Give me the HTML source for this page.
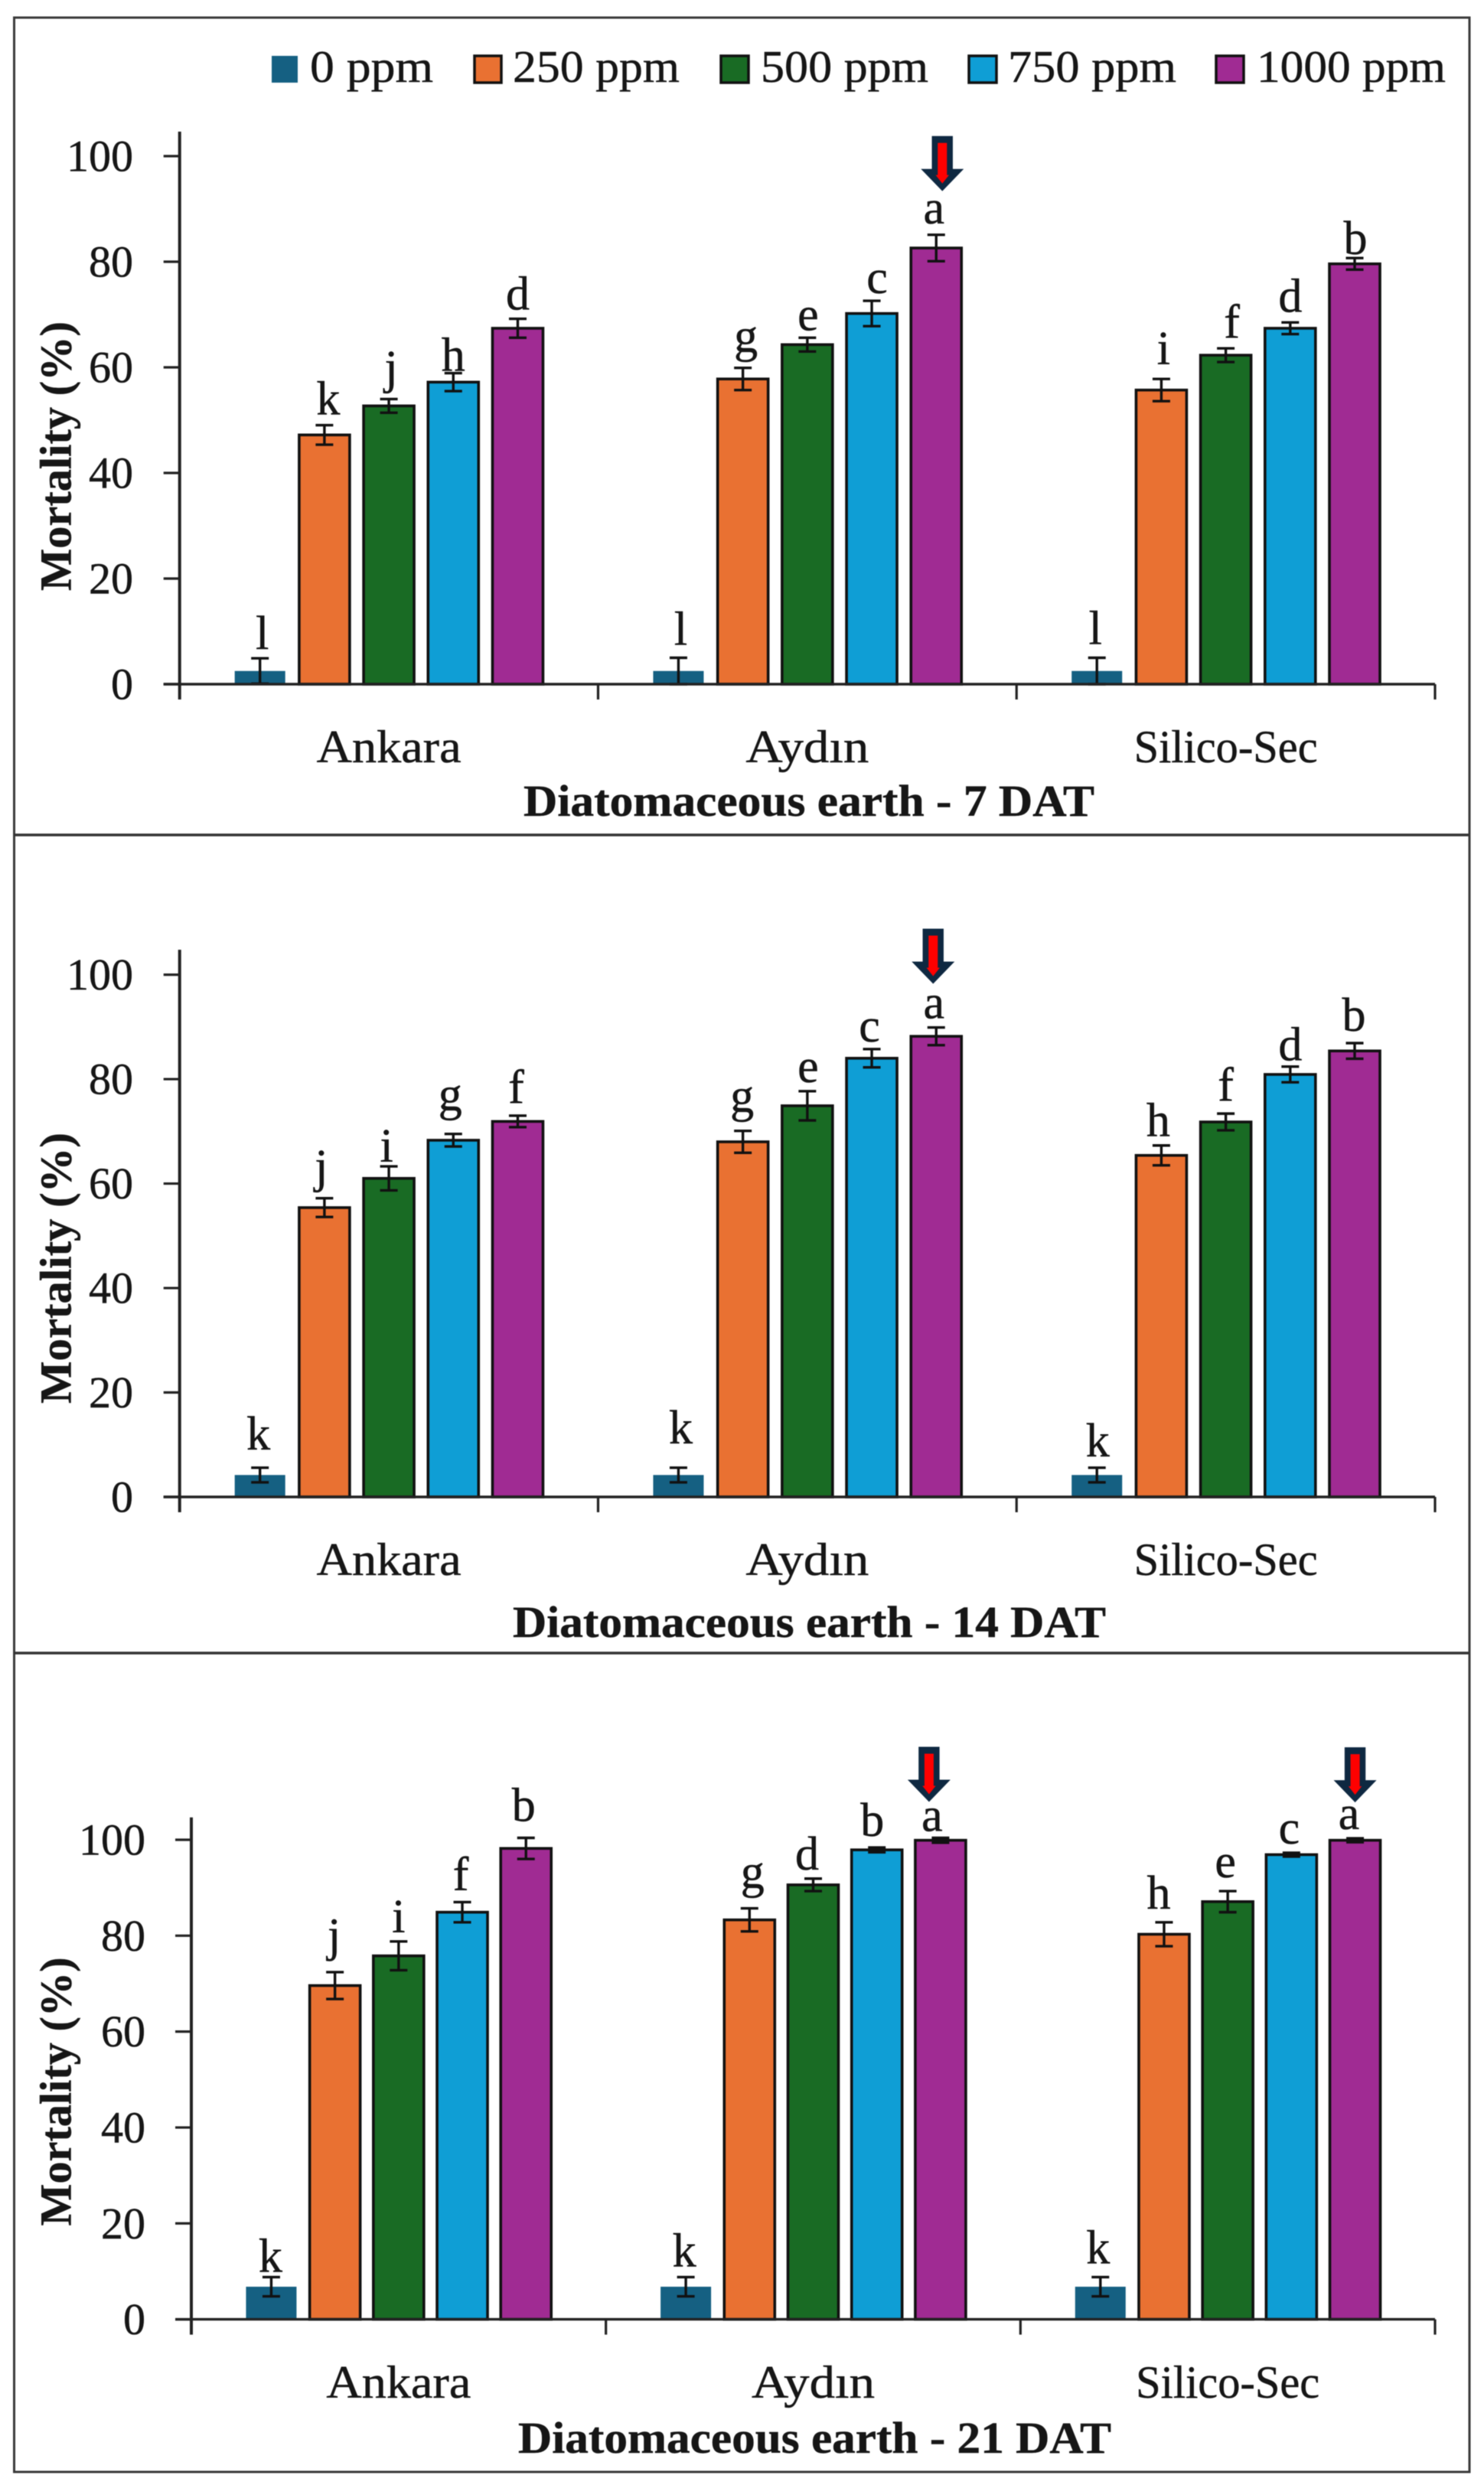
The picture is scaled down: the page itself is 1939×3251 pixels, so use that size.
<!DOCTYPE html>
<html lang="en">
<head>
<meta charset="utf-8">
<title>Diatomaceous earth mortality charts</title>
<style>
  html, body { margin: 0; padding: 0; background: #fff; }
  svg { display: block; filter: blur(0.6px); }
  text { font-family: "Liberation Serif", "DejaVu Serif", serif; fill: #161616; stroke: #161616; stroke-width: 0.5px; }
  .bold { font-weight: bold; }
</style>
</head>
<body>
<svg id="figure" xmlns="http://www.w3.org/2000/svg" width="1939" height="3251" viewBox="0 0 1939 3251">
  <rect x="0" y="0" width="1939" height="3251" fill="#fff"/>
  <rect x="18.5" y="23" width="1901.5" height="3207" fill="none" stroke="#3a3a3a" stroke-width="3"/>
  <line x1="18" x2="1920" y1="1091" y2="1091" stroke="#333" stroke-width="3.6"/>
  <line x1="18" x2="1920" y1="2160" y2="2160" stroke="#333" stroke-width="3.6"/>

  <g font-size="59">
    <g>
      <rect x="355" y="73" width="34" height="35" fill="#156082"/>
      <text x="405" y="107" textLength="161" lengthAdjust="spacingAndGlyphs">0 ppm</text>
    </g>
    <g>
      <rect x="620" y="73" width="35" height="35" fill="#E97132" stroke="#111" stroke-width="3.5"/>
      <text x="670" y="107" textLength="218" lengthAdjust="spacingAndGlyphs">250 ppm</text>
    </g>
    <g>
      <rect x="942" y="73" width="36" height="35" fill="#196B24" stroke="#111" stroke-width="3.5"/>
      <text x="994" y="107" textLength="219" lengthAdjust="spacingAndGlyphs">500 ppm</text>
    </g>
    <g>
      <rect x="1266" y="73" width="36" height="35" fill="#0F9ED5" stroke="#111" stroke-width="3.5"/>
      <text x="1317" y="107" textLength="220" lengthAdjust="spacingAndGlyphs">750 ppm</text>
    </g>
    <g>
      <rect x="1589" y="73" width="36" height="35" fill="#A02B93" stroke="#111" stroke-width="3.5"/>
      <text x="1642" y="107" textLength="247" lengthAdjust="spacingAndGlyphs">1000 ppm</text>
    </g>
  </g>
</svg>

<script>
// ---- Chart data ----
const categories = ["Ankara", "Aydın", "Silico-Sec"];
const seriesNames = ["0 ppm", "250 ppm", "500 ppm", "750 ppm", "1000 ppm"];
const tickLabels = [0, 20, 40, 60, 80, 100];

const values7 = [
  [2.5, 47.2, 52.7, 57.2, 67.4],
  [2.5, 57.8, 64.3, 70.2, 82.6],
  [2.5, 55.7, 62.3, 67.4, 79.6]
];
const errors7 = [
  [2.4, 1.85, 1.3, 1.7, 1.8],
  [2.5, 2.1, 1.3, 2.4, 2.5],
  [2.5, 2.1, 1.3, 1.1, 1.1]
];
const letters7 = [
  ["l", "k", "j", "h", "d"],
  ["l", "g", "e", "c", "a"],
  ["l", "i", "f", "d", "b"]
];

const values14 = [
  [4.2, 55.4, 61.0, 68.3, 71.9],
  [4.2, 68.0, 74.9, 84.0, 88.2],
  [4.2, 65.4, 71.8, 80.9, 85.4]
];
const errors14 = [
  [1.4, 1.8, 2.3, 1.2, 1.1],
  [1.4, 2.1, 2.8, 1.75, 1.7],
  [1.4, 1.9, 1.6, 1.5, 1.5]
];
const letters14 = [
  ["k", "j", "i", "g", "f"],
  ["k", "g", "e", "c", "a"],
  ["k", "h", "f", "d", "b"]
];

const values21 = [
  [6.8, 69.6, 75.8, 84.9, 98.2],
  [6.8, 83.3, 90.6, 97.9, 99.9],
  [6.8, 80.3, 87.1, 96.9, 99.9]
];
const errors21 = [
  [2.0, 2.8, 3.0, 2.1, 2.2],
  [2.0, 2.4, 1.3, 0.5, 0.5],
  [2.0, 2.5, 2.2, 0.4, 0.4]
];
const letters21 = [
  ["k", "j", "i", "f", "b"],
  ["k", "g", "d", "b", "a"],
  ["k", "h", "e", "c", "a"]
];

// ---- Layout (not data) ----
const seriesColors = ["#156082", "#E97132", "#196B24", "#0F9ED5", "#A02B93"];
const categoryLabelWidth = { "Ankara": 189, "Aydın": 161, "Silico-Sec": 240 };
const panels = [
  { id: "7-dat", title: "Diatomaceous earth - 7 DAT", values: values7, errors: errors7, letters: letters7,
    axisLeft: 234.7, axisRight: 1875, yZero: 894, yHundred: 204, axisTop: 172, pitch: 84.2, tickLabelRight: 174,
    titleLeft: 684, titleWidth: 746, titleBase: 1066, catBase: 996, yTitleMid: 596, yTitleLen: 352,
    arrows: [{ group: 1, dx: 8, lift: 57 }],
    nudge: { "0-0":[3,0], "0-1":[5,-2], "0-2":[3,0], "0-3":[0,9], "0-4":[0,0],
             "1-0":[3,-5], "1-1":[4,0], "1-2":[1,2], "1-3":[7,2], "1-4":[-3,-3],
             "2-0":[-2,-6], "2-1":[3,-7], "2-2":[8,-2], "2-3":[0,-2], "2-4":[1,7] } },
  { id: "14-dat", title: "Diatomaceous earth - 14 DAT", values: values14, errors: errors14, letters: letters14,
    axisLeft: 234.7, axisRight: 1875, yZero: 1956, yHundred: 1273.6, axisTop: 1241, pitch: 84.2, tickLabelRight: 174,
    titleLeft: 670, titleWidth: 775, titleBase: 2139, catBase: 2058, yTitleMid: 1657, yTitleLen: 354,
    arrows: [{ group: 1, dx: -4, lift: 57 }],
    nudge: { "0-0":[-2,-12], "0-1":[-4,0], "0-2":[-3,6], "0-3":[-4,-10], "0-4":[-2,-5],
             "1-0":[3,-20], "1-1":[-1,-4], "1-2":[1,0], "1-3":[-3,2], "1-4":[-3,0],
             "2-0":[1,-3], "2-1":[-4,0], "2-2":[0,-5], "2-3":[0,4], "2-4":[-1,-4] } },
  { id: "21-dat", title: "Diatomaceous earth - 21 DAT", values: values21, errors: errors21, letters: letters21,
    axisLeft: 250, axisRight: 1875, yZero: 3030.6, yHundred: 2404, axisTop: 2374.7, pitch: 83.2, tickLabelRight: 190,
    titleLeft: 677, titleWidth: 775, titleBase: 3205, catBase: 3133, yTitleMid: 2733, yTitleLen: 351,
    arrows: [{ group: 1, dx: -15, lift: 47 }, { group: 2, dx: 0, lift: 47 }],
    nudge: { "0-0":[-1,5], "0-1":[-1,-7], "0-2":[0,0], "0-3":[-2,-4], "0-4":[-3,-10],
             "1-0":[-2,-2], "1-1":[4,-6], "1-2":[-8,0], "1-3":[-6,-3], "1-4":[-11,3],
             "2-0":[-3,-6], "2-1":[-7,-6], "2-2":[-3,-6], "2-3":[-3,0], "2-4":[-8,0] } }
];

const SVG_NS = "http://www.w3.org/2000/svg";
const root = document.getElementById("figure");

function el(tag, attrs, parent, content) {
  const node = document.createElementNS(SVG_NS, tag);
  for (const k in attrs) node.setAttribute(k, attrs[k]);
  if (content !== undefined) node.textContent = content;
  parent.appendChild(node);
  return node;
}

panels.forEach(function (p) {
  const y = function (v) { return p.yZero - (v / 100) * (p.yZero - p.yHundred); };
  const band = (p.axisRight - p.axisLeft) / categories.length;
  const bandCenter = function (g) { return p.axisLeft + band * (g + 0.5); };
  const barCenter = function (g, s) { return bandCenter(g) + (s - 2) * p.pitch; };

  const g = el("g", {}, root);
  
  

  // y axis line
  const yAxis = el("line", { x1: p.axisLeft, x2: p.axisLeft, y1: p.axisTop, y2: p.yZero + 20, stroke: "#222", "stroke-width": 4 }, g);
  
  

  // y ticks + labels
  tickLabels.forEach(function (t) {
    const tick = el("line", { x1: p.axisLeft - 21, x2: p.axisLeft, y1: y(t), y2: y(t), stroke: "#222", "stroke-width": 3.2 }, g);
    
    
    const lab = el("text", { x: p.tickLabelRight, y: y(t) + 19.5, "text-anchor": "end", "font-size": 58 }, g, String(t));
    
    
  });

  // y axis title
  const yTitle = el("text", { transform: "translate(92.5 " + p.yTitleMid + ") rotate(-90)", "text-anchor": "middle", "font-size": 58, "class": "bold", textLength: p.yTitleLen, lengthAdjust: "spacingAndGlyphs" }, g, "Mortality (%)");
  
  

  // bars, error bars, letters
  p.values.forEach(function (groupVals, gi) {
    groupVals.forEach(function (v, si) {
      const cx = barCenter(gi, si);
      const top = y(v);
      const bar = el("rect", {
        x: cx - 33, y: top, width: 66, height: p.yZero - top,
        fill: seriesColors[si],
        stroke: si === 0 ? "none" : "#111", "stroke-width": si === 0 ? 0 : 3.6
      }, g);
      
      

      const err = p.errors[gi][si];
      const errHi = y(v + err);
      const errLo = y(Math.max(0, v - err));
      const errGroup = el("g", { stroke: "#111", "stroke-width": 3.4, fill: "none" }, g);
      
      
      el("line", { x1: cx, x2: cx, y1: errHi, y2: errLo }, errGroup);
      el("line", { x1: cx - 11.5, x2: cx + 11.5, y1: errHi, y2: errHi }, errGroup);
      el("line", { x1: cx - 11.5, x2: cx + 11.5, y1: errLo, y2: errLo }, errGroup);

      const letter = p.letters[gi][si];
      const descender = (letter === "g" || letter === "j") ? 9 : 0;
      const nudge = p.nudge[gi + "-" + si] || [0, 0];
      const lab = el("text", {
        x: cx + nudge[0], y: errHi - 12 - descender + nudge[1],
        "text-anchor": "middle", "font-size": 62
      }, g, letter);
      
      
    });
  });

  // x axis line + ticks (drawn after bars, over their bases)
  const xAxis = el("line", { x1: p.axisLeft - 21, x2: p.axisRight, y1: p.yZero, y2: p.yZero, stroke: "#222", "stroke-width": 3.4 }, g);
  
  
  for (let i = 1; i <= categories.length; i++) {
    const tx = p.axisLeft + band * i;
    const xt = el("line", { x1: tx, x2: tx, y1: p.yZero, y2: p.yZero + 20, stroke: "#222", "stroke-width": 3.2 }, g);
    
    
  }

  // category labels
  categories.forEach(function (c, gi) {
    const lab = el("text", {
      x: bandCenter(gi), y: p.catBase, "text-anchor": "middle", "font-size": 60,
      textLength: categoryLabelWidth[c], lengthAdjust: "spacingAndGlyphs"
    }, g, c);
    
    
  });

  // panel title (x axis title)
  const title = el("text", {
    x: p.titleLeft, y: p.titleBase, "font-size": 58, "class": "bold",
    textLength: p.titleWidth, lengthAdjust: "spacingAndGlyphs"
  }, g, p.title);
  
  

  // highlight arrows over the best treatment (1000 ppm) in the group
  p.arrows.forEach(function (a) {
    const s = seriesNames.length - 1;
    const cx = barCenter(a.group, s) + a.dx;
    const tip = y(p.values[a.group][s] + p.errors[a.group][s]) - a.lift;
    const ag = el("g", {}, g);
    
    
    const outer = [[-13.7, -72], [13.7, -72], [13.7, -29], [28, -29], [0, 0], [-28, -29], [-13.7, -29]];
    const inner = [[-6, -63], [6, -63], [6, -21], [8.7, -21], [0, -10], [-8.7, -21], [-6, -21]];
    el("polygon", { points: outer.map(function (q) { return (cx + q[0]) + "," + (tip + q[1]); }).join(" "), fill: "#0E2841" }, ag);
    el("polygon", { points: inner.map(function (q) { return (cx + q[0]) + "," + (tip + q[1]); }).join(" "), fill: "#FF0000" }, ag);
  });
});
</script>
</body>
</html>
